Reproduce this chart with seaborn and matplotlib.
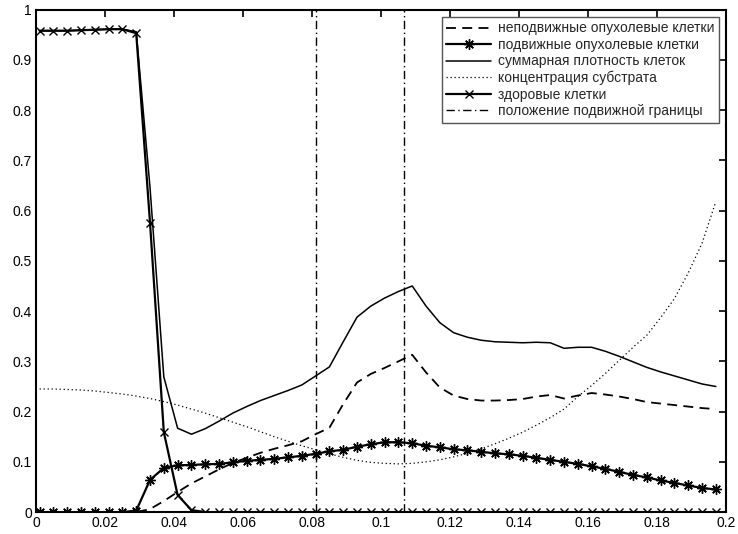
import numpy as np
import pandas as pd
import matplotlib
matplotlib.use("Agg")
import matplotlib.pyplot as plt
import seaborn as sns

# grid positions (x)
x = [0.001 + 0.004 * i for i in range(50)]

immobile = [0, 0, 0, 0, 0, 0, 0, 0, 0.006, 0.022,
            0.040, 0.057, 0.071, 0.085, 0.098, 0.108, 0.118, 0.126, 0.133, 0.141,
            0.155, 0.168, 0.215, 0.258, 0.275, 0.287, 0.300, 0.313, 0.278, 0.248,
            0.232, 0.225, 0.222, 0.222, 0.223, 0.225, 0.230, 0.233, 0.226, 0.232,
            0.237, 0.234, 0.230, 0.225, 0.219, 0.216, 0.213, 0.210, 0.207, 0.205]

mobile = [0, 0, 0, 0, 0, 0, 0, 0.003, 0.064, 0.088,
          0.093, 0.094, 0.095, 0.096, 0.099, 0.102, 0.104, 0.106, 0.109, 0.112,
          0.116, 0.121, 0.124, 0.130, 0.135, 0.139, 0.139, 0.137, 0.132, 0.129,
          0.125, 0.123, 0.120, 0.117, 0.115, 0.112, 0.108, 0.104, 0.100, 0.096,
          0.091, 0.086, 0.080, 0.074, 0.069, 0.063, 0.058, 0.053, 0.048, 0.045]

total = [0.958, 0.958, 0.958, 0.959, 0.960, 0.961, 0.961, 0.956, 0.646, 0.269,
         0.167, 0.155, 0.166, 0.181, 0.197, 0.210, 0.222, 0.232, 0.242, 0.253,
         0.271, 0.289, 0.339, 0.388, 0.410, 0.426, 0.439, 0.450, 0.410, 0.377,
         0.357, 0.348, 0.342, 0.339, 0.338, 0.337, 0.338, 0.337, 0.326, 0.328,
         0.328, 0.320, 0.310, 0.299, 0.288, 0.279, 0.271, 0.263, 0.255, 0.250]

substrate = [0.245, 0.245, 0.244, 0.243, 0.241, 0.238, 0.235, 0.231, 0.226, 0.220,
             0.213, 0.205, 0.197, 0.188, 0.179, 0.170, 0.160, 0.150, 0.141, 0.132,
             0.124, 0.116, 0.109, 0.103, 0.099, 0.097, 0.096, 0.097, 0.100, 0.104,
             0.110, 0.117, 0.126, 0.136, 0.147, 0.159, 0.173, 0.188, 0.205, 0.230,
             0.252, 0.276, 0.302, 0.328, 0.352, 0.387, 0.425, 0.476, 0.535, 0.618]

healthy = [0.958, 0.958, 0.958, 0.959, 0.960, 0.961, 0.961, 0.953, 0.576, 0.159,
           0.034, 0.004, 0, 0, 0, 0, 0, 0, 0, 0,
           0, 0, 0, 0, 0, 0, 0, 0, 0, 0,
           0, 0, 0, 0, 0, 0, 0, 0, 0, 0,
           0, 0, 0, 0, 0, 0, 0, 0, 0, 0]

boundary = [0.081, 0.1065]
boundary_y = [0, 1]

labels = ["неподвижные опухолевые клетки",
          "подвижные опухолевые клетки",
          "суммарная плотность клеток",
          "концентрация субстрата",
          "здоровые клетки",
          "положение подвижной границы"]

x_ticks = [0, 0.02, 0.04, 0.06, 0.08, 0.1, 0.12, 0.14, 0.16, 0.18, 0.2]
x_ticklabels = ["0", "0.02", "0.04", "0.06", "0.08", "0.1", "0.12", "0.14", "0.16", "0.18", "0.2"]
y_ticks = [0, 0.1, 0.2, 0.3, 0.4, 0.5, 0.6, 0.7, 0.8, 0.9, 1]
y_ticklabels = ["0", "0.1", "0.2", "0.3", "0.4", "0.5", "0.6", "0.7", "0.8", "0.9", "1"]

sns.set_theme(style="white")
plt.rcParams["font.family"] = ["Liberation Sans", "DejaVu Sans"]
plt.rcParams["xtick.direction"] = "in"
plt.rcParams["ytick.direction"] = "in"

fig = plt.figure(figsize=(7.38, 5.34), dpi=100)
ax = fig.add_axes([0.049, 0.041, 0.935, 0.941])

df = pd.DataFrame({"x": x, "immobile": immobile, "mobile": mobile, "total": total,
                   "substrate": substrate, "healthy": healthy})

sns.lineplot(data=df, x="x", y="immobile", ax=ax, color="black", lw=1.3,
             linestyle=(0, (5.5, 3.5)), label=labels[0], sort=False, estimator=None)
sns.lineplot(data=df, x="x", y="mobile", ax=ax, color="black", lw=1.6,
             marker=(8, 2, 0), markersize=7.5, markeredgewidth=1.0,
             markeredgecolor="black", label=labels[1], sort=False, estimator=None)
sns.lineplot(data=df, x="x", y="total", ax=ax, color="black", lw=1.1,
             label=labels[2], sort=False, estimator=None)
sns.lineplot(data=df, x="x", y="substrate", ax=ax, color="black", lw=0.9,
             linestyle=(0, (1, 2.2)), label=labels[3], sort=False, estimator=None)
sns.lineplot(data=df, x="x", y="healthy", ax=ax, color="black", lw=1.6,
             marker="x", markersize=6, markeredgewidth=1.0,
             markeredgecolor="black", label=labels[4], sort=False, estimator=None)
for k, b in enumerate(boundary):
    bd = pd.DataFrame({"x": [b, b], "y": boundary_y})
    sns.lineplot(data=bd, x="x", y="y", ax=ax, color="black", lw=1.0,
                 linestyle=(0, (6, 2.5, 1, 2.5)), estimator=None,
                 label=labels[5] if k == 0 else None, sort=False)

ax.set_xlim(0, 0.2)
ax.set_ylim(0, 1)
ax.set_xticks(x_ticks)
ax.set_xticklabels(x_ticklabels)
ax.set_yticks(y_ticks)
ax.set_yticklabels(y_ticklabels)
ax.set_xlabel("")
ax.set_ylabel("")
ax.tick_params(axis="both", which="both", direction="in", length=5, width=1.2,
               top=True, right=True, labelsize=10, colors="black", pad=3)
for s in ax.spines.values():
    s.set_color("black")
    s.set_linewidth(1.5)

leg = ax.legend(loc="upper right", fontsize=10, frameon=True, fancybox=False,
                framealpha=1, edgecolor="#555555", borderaxespad=0.5,
                handlelength=3.2, handletextpad=0.5, labelspacing=0.18,
                borderpad=0.35, numpoints=1)
leg.get_frame().set_linewidth(1.0)

fig.savefig("out.png", dpi=100, facecolor="white")
